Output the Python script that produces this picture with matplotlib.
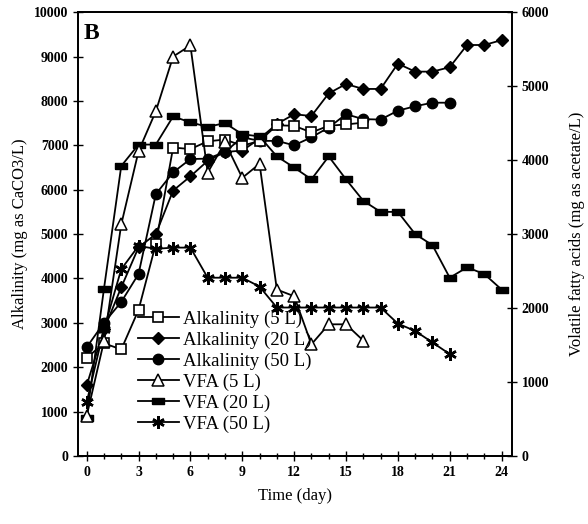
import matplotlib
matplotlib.use("Agg")
import matplotlib.pyplot as plt
from matplotlib.ticker import MultipleLocator

plt.rcParams['font.family'] = ['Liberation Serif', 'DejaVu Serif']

days_5 = list(range(0, 17))
days_20 = list(range(0, 25))
days_50 = list(range(0, 22))

alk_5 = [2210, 2540, 2400, 3290, 4780, 6950, 6915, 7090, 7130, 6990, 7100,
         7450, 7440, 7290, 7440, 7470, 7510]
alk_20 = [1590, 2850, 3800, 4700, 5000, 5980, 6300, 6650, 6850, 6880, 7150,
          7480, 7700, 7660, 8170, 8380, 8270, 8270, 8840, 8660, 8660, 8760,
          9260, 9260, 9370]
alk_50 = [2450, 3000, 3470, 4100, 5900, 6390, 6690, 6700, 6850, 7180, 7100,
          7100, 7000, 7180, 7400, 7700, 7590, 7580, 7780, 7880, 7960, 7960]

vfa_5 = [540, 1550, 3130, 4120, 4660, 5400, 5550, 3830, 4240, 3760, 3950,
         2250, 2160, 1510, 1780, 1780, 1560]
vfa_20 = [520, 2260, 3920, 4210, 4210, 4590, 4510, 4450, 4500, 4350, 4320,
          4050, 3900, 3740, 4050, 3740, 3450, 3300, 3300, 3000, 2850, 2410,
          2550, 2460, 2250]
vfa_50 = [725, 1715, 2525, 2840, 2800, 2817, 2817, 2410, 2410, 2410, 2290,
          2007, 2007, 2007, 2007, 2007, 2007, 2007, 1790, 1690, 1535, 1377]

fig = plt.figure(figsize=(5.88, 5.24), dpi=100)
ax = fig.add_axes([0.1327, 0.1298, 0.738, 0.847])
ax2 = ax.twinx()

lw = 1.3
h1, = ax.plot(days_5, alk_5, '-', color='black', lw=lw, marker='s', ms=7,
              mfc='white', mec='black', mew=1.2, label='Alkalinity (5 L)', zorder=5)
h2, = ax.plot(days_20, alk_20, '-', color='black', lw=lw, marker='D', ms=6,
              mfc='black', mec='black', label='Alkalinity (20 L)', zorder=4)
h3, = ax.plot(days_50, alk_50, '-', color='black', lw=lw, marker='o', ms=7.5,
              mfc='black', mec='black', label='Alkalinity (50 L)', zorder=4)

rect = [(-1, -0.45), (1, -0.45), (1, 0.45), (-1, 0.45), (-1, -0.45)]
h4, = ax2.plot(days_5, vfa_5, '-', color='black', lw=lw, marker='^', ms=8,
               mfc='white', mec='black', mew=1.1, label='VFA (5 L)', zorder=5)
h5, = ax2.plot(days_20, vfa_20, '-', color='black', lw=lw, marker=rect, ms=9,
               mfc='black', mec='black', label='VFA (20 L)', zorder=4)
h6, = ax2.plot(days_50, vfa_50, '-', color='black', lw=lw, marker=(6, 2, 0), ms=9,
               mfc='black', mec='black', mew=1.8, label='VFA (50 L)', zorder=4)

ax.set_xlim(-0.5, 24.6)
ax.set_ylim(0, 10000)
ax2.set_ylim(0, 6000)

ax.xaxis.set_major_locator(MultipleLocator(3))
ax.xaxis.set_minor_locator(MultipleLocator(1))
ax.yaxis.set_major_locator(MultipleLocator(1000))
ax2.yaxis.set_major_locator(MultipleLocator(1000))

ax.tick_params(axis='x', which='major', direction='inout', length=7, width=1, labelsize=10, pad=4)
ax.tick_params(axis='x', which='minor', direction='inout', length=5, width=1)
ax.tick_params(axis='y', which='major', direction='inout', length=7, width=1, labelsize=10)
ax2.tick_params(axis='y', which='major', direction='inout', length=7, width=1, labelsize=10)

for lab in ax.get_xticklabels() + ax.get_yticklabels() + ax2.get_yticklabels():
    lab.set_fontweight('bold')

for sp in ['left', 'right', 'bottom', 'top']:
    ax.spines[sp].set_linewidth(1.3)
    ax2.spines[sp].set_linewidth(1.3)

ax.set_xlabel('Time (day)', fontsize=12, labelpad=6)
ax.set_ylabel('Alkalinity (mg as CaCO3/L)', fontsize=12, labelpad=4)
ax2.set_ylabel('Volatile fatty acids (mg as acetate/L)', fontsize=12, labelpad=14)

ax.text(0.012, 0.975, 'B', transform=ax.transAxes, fontsize=17, fontweight='bold',
        ha='left', va='top')

leg = ax2.legend(handles=[h1, h2, h3, h4, h5, h6], loc='lower left',
                 bbox_to_anchor=(0.12, 0.035), frameon=False, fontsize=13.5,
                 handlelength=2.2, handletextpad=0.2, labelspacing=0.2,
                 borderaxespad=0)

fig.savefig('out.png', dpi=100)
